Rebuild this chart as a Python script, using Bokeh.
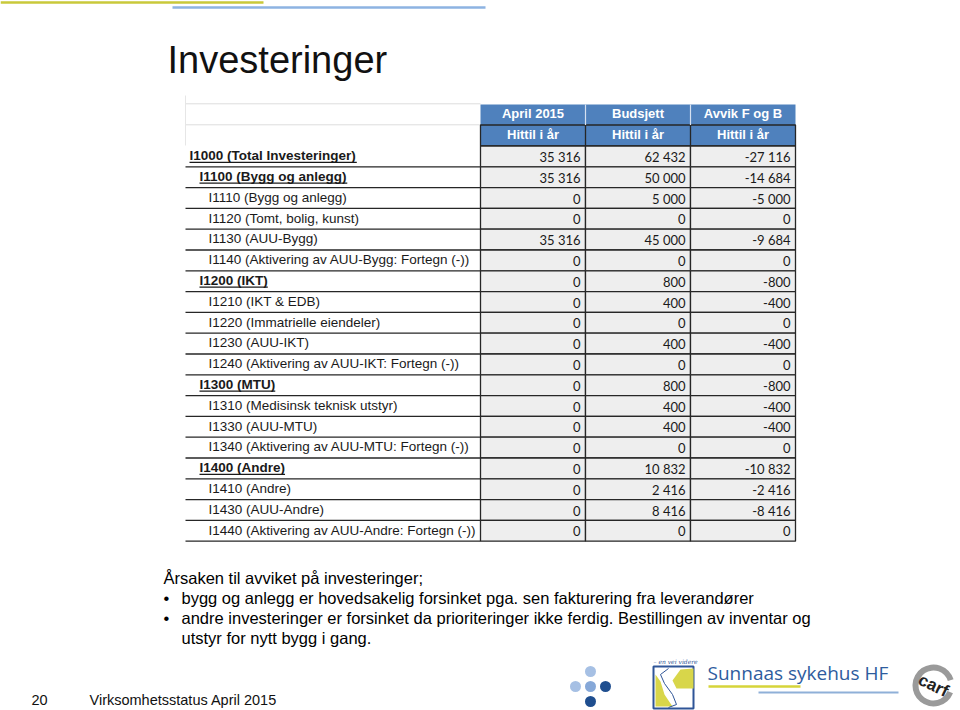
from bokeh.plotting import figure
from bokeh.models import Range1d
from bokeh.embed import file_html
from bokeh.resources import INLINE
from bokeh.core.properties import value

# ---------------- data ----------------
title_text = "Investeringer"
col_headers = ["April 2015", "Budsjett", "Avvik F og B"]
sub_header = "Hittil i år"
labels = [
    "I1000 (Total Investeringer)",
    "I1100 (Bygg og anlegg)",
    "I1110 (Bygg og anlegg)",
    "I1120 (Tomt, bolig, kunst)",
    "I1130 (AUU-Bygg)",
    "I1140 (Aktivering av AUU-Bygg: Fortegn (-))",
    "I1200 (IKT)",
    "I1210 (IKT & EDB)",
    "I1220 (Immatrielle eiendeler)",
    "I1230 (AUU-IKT)",
    "I1240 (Aktivering av AUU-IKT: Fortegn (-))",
    "I1300 (MTU)",
    "I1310 (Medisinsk teknisk utstyr)",
    "I1330 (AUU-MTU)",
    "I1340 (Aktivering av AUU-MTU: Fortegn (-))",
    "I1400 (Andre)",
    "I1410 (Andre)",
    "I1430 (AUU-Andre)",
    "I1440 (Aktivering av AUU-Andre: Fortegn (-))",
]
levels = [0, 1, 2, 2, 2, 2, 1, 2, 2, 2, 2, 1, 2, 2, 2, 1, 2, 2, 2]
april = [35316, 35316, 0, 0, 35316, 0, 0, 0, 0, 0, 0, 0, 0, 0, 0, 0, 0, 0, 0]
budsjett = [62432, 50000, 5000, 0, 45000, 0, 800, 400, 0, 400, 0, 800, 400, 400, 0, 10832, 2416, 8416, 0]
avvik = [-27116, -14684, -5000, 0, -9684, 0, -800, -400, 0, -400, 0, -800, -400, -400, 0, -10832, -2416, -8416, 0]

notes_intro = "Årsaken til avviket på investeringer;"
notes_bullets = [
    ["bygg og anlegg er hovedsakelig forsinket pga. sen fakturering fra leverandører"],
    ["andre investeringer er forsinket da prioriteringer ikke ferdig. Bestillingen av inventar og",
     "utstyr for nytt bygg i gang."],
]
page_no = "20"
footer_text = "Virksomhetsstatus April 2015"
org_name = "Sunnaas sykehus HF"
org_tag = "– en vei videre"
cert_name = "carf"

# ---------------- layout ----------------
W, H = 960, 710
ARIAL = value("Liberation Sans")
NUMF = value("Lato")
BLUE = "#4F81BD"
DARK = "#262626"
CELL = "#EEEEEE"
K = 0.37  # baseline compensation factor for rendered text


def bl(y, fs):
    """y position that puts the text baseline at page y."""
    return y - K * fs


p = figure(width=W, height=H, x_range=Range1d(0, W), y_range=Range1d(H, 0),
           output_backend="svg", toolbar_location=None, min_border=0,
           x_axis_type=None, y_axis_type=None)
p.grid.visible = False
p.outline_line_color = None
p.background_fill_color = "white"
p.border_fill_color = "white"

# decorative top lines
p.segment(x0=[0], y0=[2], x1=[263], y1=[2], line_color="#C9C93A", line_width=2.5)
p.segment(x0=[172], y0=[7], x1=[485], y1=[7], line_color="#8DB3E2", line_width=2.5)

# title
p.text(x=[167], y=[bl(73.5, 38)], text=[title_text], text_font=ARIAL, text_font_size="38px",
       text_color="#111111", text_baseline="alphabetic")

# table geometry
lab_left, lab_right = 185, 480
col_edges = [480, 585, 690, 795]
h1_top, h1_bot, h2_bot = 104, 124.5, 145.5
row_h = 20.8
n = len(labels)
row_tops = [h2_bot + row_h * i for i in range(n)]
row_bots = [t + row_h for t in row_tops]
row_mid = [t + row_h / 2 for t in row_tops]

# faint excel gridlines in header area
p.segment(x0=[lab_left, lab_left], y0=[103.3, 124.3], x1=[lab_right, lab_right], y1=[103.3, 124.3],
          line_color="#DDDDDD", line_width=1)
p.segment(x0=[lab_left], y0=[95], x1=[lab_left], y1=[145], line_color="#E6E6E6", line_width=1)

# header
p.quad(left=[col_edges[0]], right=[col_edges[-1]], top=[h1_top], bottom=[h1_bot],
       fill_color=BLUE, line_color=None)
p.quad(left=[col_edges[0]], right=[col_edges[-1]], top=[h1_bot], bottom=[h2_bot],
       fill_color=BLUE, line_color=DARK, line_width=1.3)
p.segment(x0=col_edges[1:3], y0=[h1_top] * 2, x1=col_edges[1:3], y1=[h1_bot] * 2,
          line_color="#D5E0F0", line_width=1.2)
p.segment(x0=col_edges[1:3], y0=[h1_bot] * 2, x1=col_edges[1:3], y1=[h2_bot] * 2,
          line_color=DARK, line_width=1.3)
centers = [(col_edges[i] + col_edges[i + 1]) / 2 for i in range(3)]
p.text(x=centers, y=[bl(h1_top + 14, 13)] * 3, text=col_headers, text_font=ARIAL, text_font_style="bold",
       text_font_size="13px", text_color="white", text_align="center", text_baseline="alphabetic")
p.text(x=centers, y=[bl(h1_bot + 14, 13)] * 3, text=[sub_header] * 3, text_font=ARIAL,
       text_font_style="bold", text_font_size="13px", text_color="white", text_align="center",
       text_baseline="alphabetic")

# data cells
cl, cr, ct, cb = [], [], [], []
for i in range(n):
    for j in range(3):
        cl.append(col_edges[j]); cr.append(col_edges[j + 1])
        ct.append(row_tops[i]); cb.append(row_bots[i])
p.quad(left=cl, right=cr, top=ct, bottom=cb, fill_color=CELL, line_color=DARK, line_width=1.3)

# label column row lines
p.segment(x0=[lab_left] * n, y0=row_bots, x1=[lab_right] * n, y1=row_bots, line_color=DARK, line_width=1.3)


def fmt(v):
    s = f"{abs(v):,}".replace(",", " ")
    return ("-" + s) if v < 0 else s


for j, series in enumerate([april, budsjett, avvik]):
    p.text(x=[col_edges[j + 1] - 5] * n, y=[bl(m + 5.5, 13) for m in row_mid], text=[fmt(v) for v in series],
           text_font=NUMF, text_font_size="13px", text_color="#1a1a1a", text_align="right",
           text_baseline="alphabetic")

# labels
indent = {0: 189, 1: 199, 2: 208}
bold_w = {'B': 722, 'y': 556, 'g': 611, 'o': 611, 'a': 556, 'n': 611, 'l': 278, 'e': 556, 'K': 722,
          'T': 611, 'M': 833, 'U': 722, 'A': 722, 'd': 611, 'r': 389, 'I': 278, ' ': 278, '(': 333,
          ')': 333, 't': 333, 'v': 556, 's': 556, 'i': 278}
lab_fs = 13.5
bx, by, bt, nx, ny, nt = [], [], [], [], [], []
ux0, ux1, uy = [], [], []
for i, (lab, lev) in enumerate(zip(labels, levels)):
    x = indent[lev]
    base = row_mid[i] + 4.3
    if lev < 2:
        bx.append(x); by.append(bl(base, lab_fs)); bt.append(lab)
        w = sum(bold_w.get(c, 556) for c in lab) / 1000 * lab_fs
        ux0.append(x); ux1.append(x + w); uy.append(base + 1.6)
    else:
        nx.append(x); ny.append(bl(base, lab_fs)); nt.append(lab)
p.text(x=bx, y=by, text=bt, text_font=ARIAL, text_font_style="bold", text_font_size=f"{lab_fs}px",
       text_color="#1a1a1a", text_baseline="alphabetic")
p.text(x=nx, y=ny, text=nt, text_font=ARIAL, text_font_size=f"{lab_fs}px",
       text_color="#1a1a1a", text_baseline="alphabetic")
p.segment(x0=ux0, y0=uy, x1=ux1, y1=uy, line_color="#1a1a1a", line_width=1.2)

# notes text
BFS = 16.5
p.text(x=[163], y=[bl(584, BFS)], text=[notes_intro], text_font=ARIAL, text_font_size=f"{BFS}px",
       text_color="#000000", text_baseline="alphabetic")
yb = 604
for bullet in notes_bullets:
    p.text(x=[163], y=[bl(yb, BFS)], text=["•"], text_font=ARIAL, text_font_size=f"{BFS}px",
           text_color="#000000", text_baseline="alphabetic")
    for line in bullet:
        p.text(x=[181], y=[bl(yb, BFS)], text=[line], text_font=ARIAL, text_font_size=f"{BFS}px",
               text_color="#000000", text_baseline="alphabetic")
        yb += 20

# footer
p.text(x=[31, 89], y=[bl(705, 14.5)] * 2, text=[page_no, footer_text], text_font=ARIAL,
       text_font_size="14.5px", text_color="#111111", text_baseline="alphabetic")

# dots logo
p.scatter(x=[590, 575, 590, 605, 590], y=[671, 686, 686, 686, 701], size=11,
          fill_color=["#A6C0E4", "#A6C0E4", "#86A8D8", "#1F4E8F", "#1F4E8F"], line_color=None)

# S logo
p.quad(left=[653], right=[693], top=[666], bottom=[708], fill_color="white", line_color="#2F5597", line_width=2)
p.patches(xs=[[655, 672, 664, 660, 655], [693, 693, 676, 672, 680, 693]],
          ys=[[706, 706, 694, 681, 674], [668, 688, 688, 680, 669, 668]],
          fill_color="#D8D64A", line_color=None)
p.line(x=[668, 660, 664, 672, 676, 668], y=[668, 674, 683, 694, 704, 707], line_color="#2F5597", line_width=1)
p.text(x=[653], y=[bl(663, 6)], text=[org_tag], text_font=value("DejaVu Serif"), text_font_style="italic",
       text_font_size="6px", text_color="#2F5597", text_baseline="alphabetic")

# Sunnaas text
p.text(x=[707], y=[bl(680, 19)], text=[org_name], text_font=value("Open Sans"), text_font_size="19px",
       text_color="#2E5C9E", text_baseline="alphabetic")
p.segment(x0=[708], y0=[686], x1=[800], y1=[686], line_color="#D6D43A", line_width=2.5)
p.segment(x0=[758], y0=[692], x1=[898], y1=[692], line_color="#8FB0D8", line_width=2)

# carf logo
p.annular_wedge(x=[933], y=[685], inner_radius=15, outer_radius=21, start_angle=0.3, end_angle=5.9,
                fill_color="#9A9A9A", line_color=None)
p.text(x=[933], y=[685], text=[cert_name], text_font=ARIAL, text_font_style="bold",
       text_font_size="17px", text_color="#222222", text_align="center", text_baseline="middle",
       angle=-0.45)

open("out.html", "w").write(file_html(p, INLINE))
